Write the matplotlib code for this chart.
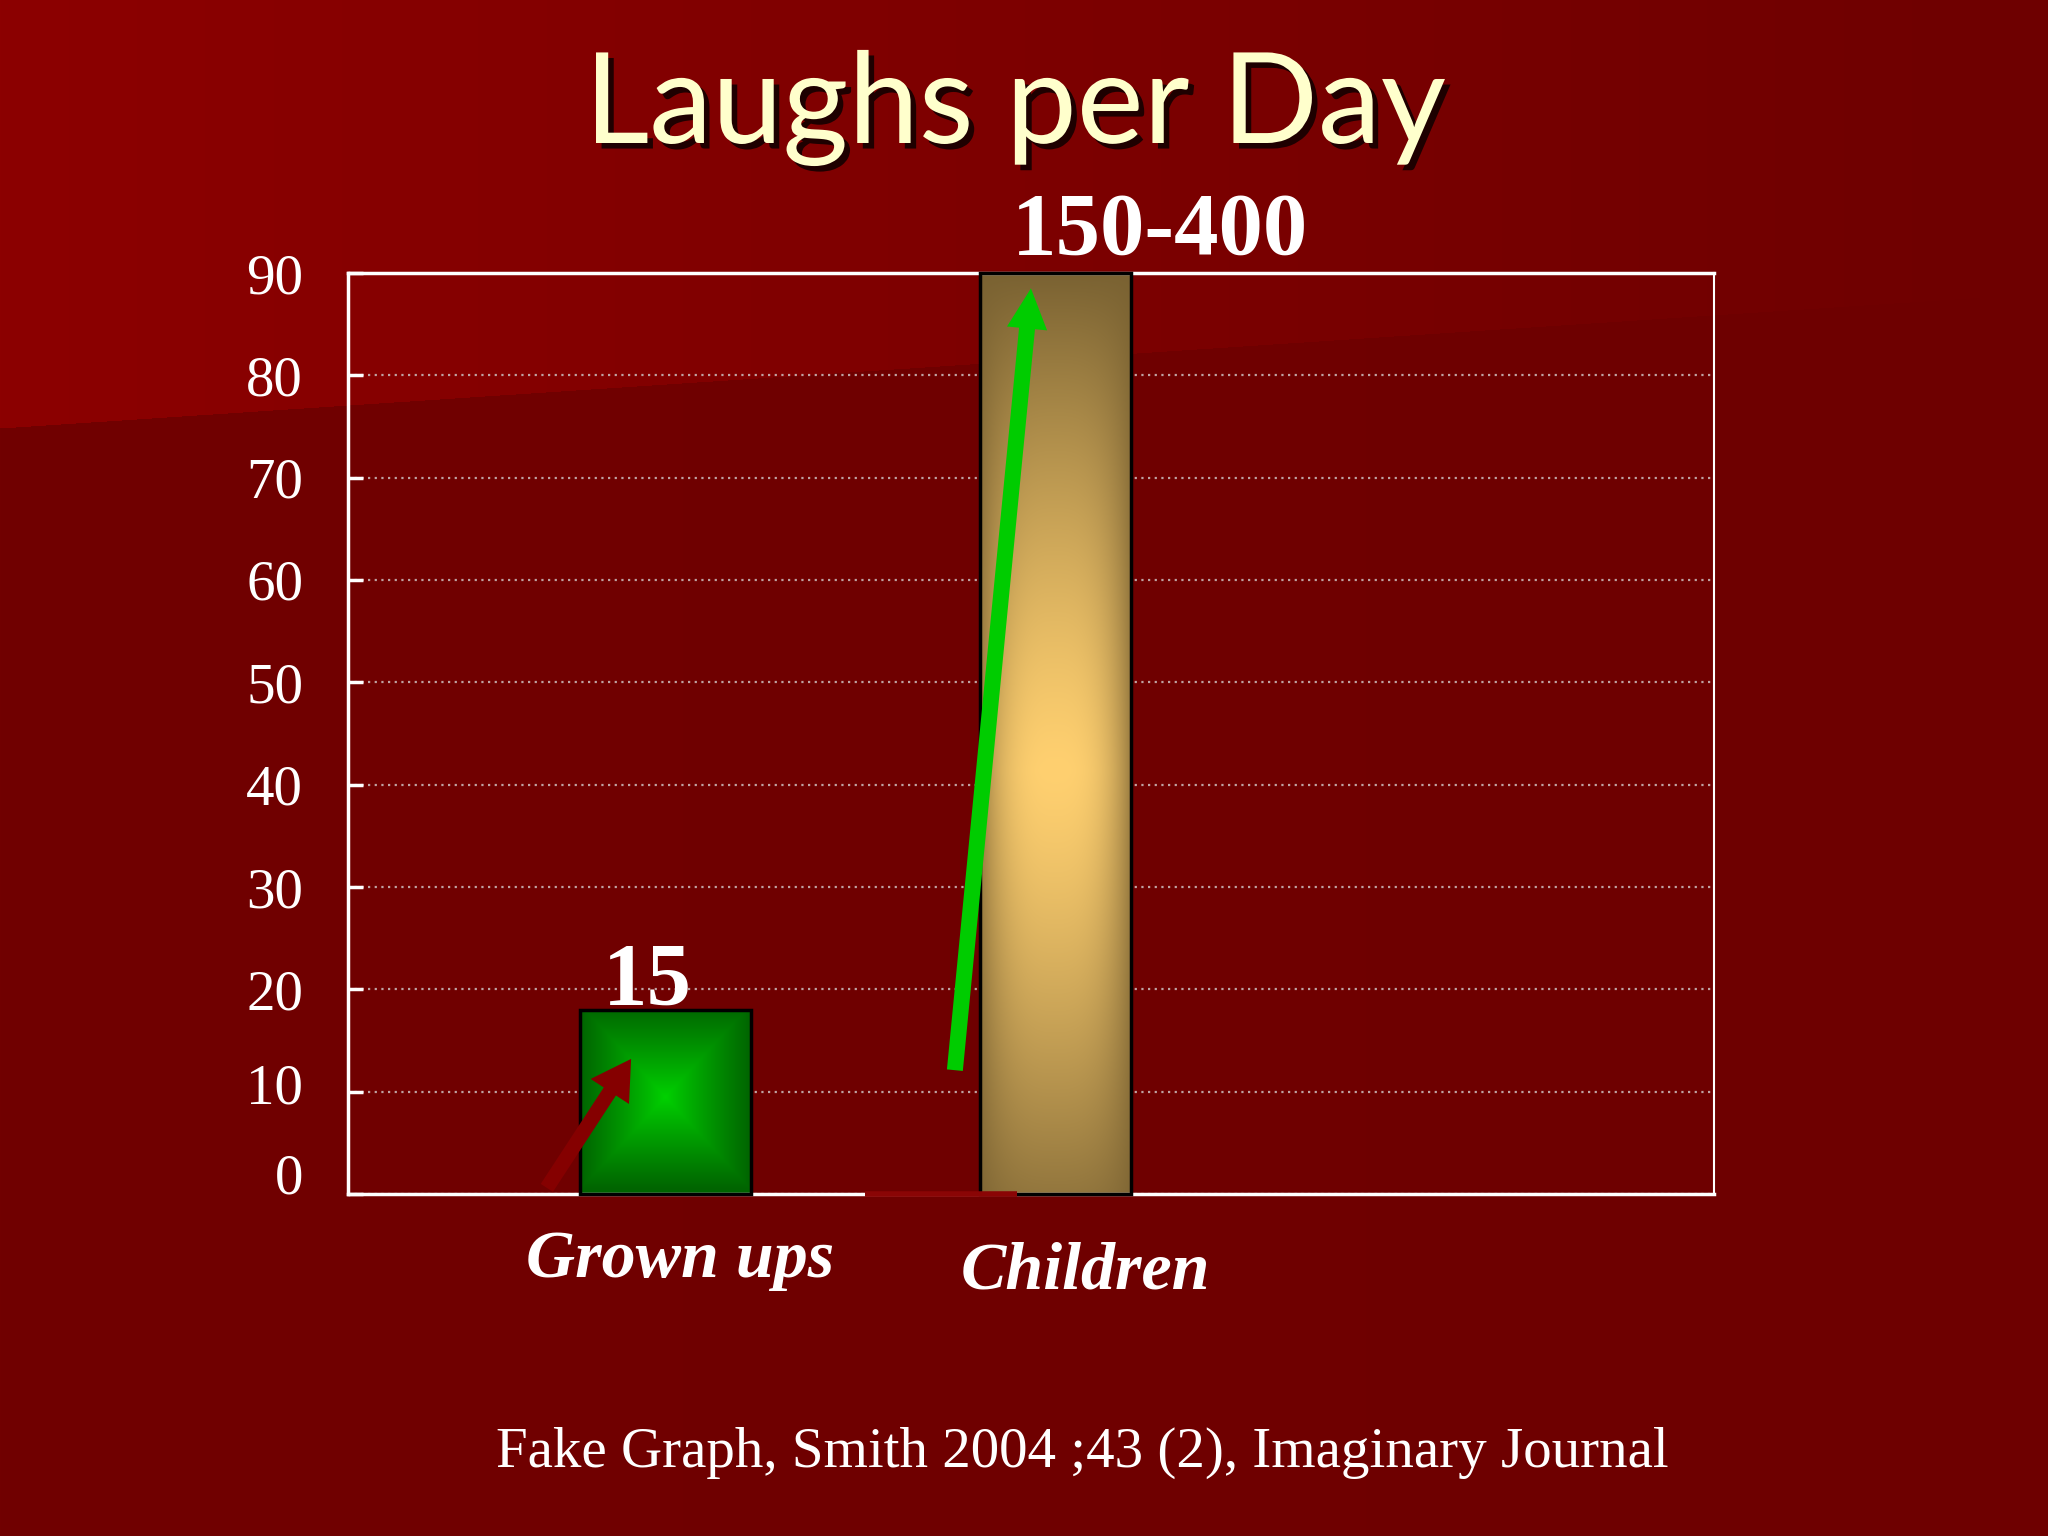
import numpy as np
import matplotlib
matplotlib.use('Agg')
import matplotlib.pyplot as plt
from matplotlib import patheffects as pe
from matplotlib.transforms import ScaledTranslation

# ---------------- data ----------------
categories = ['Grown ups', 'Children']
values = [18, 90]
value_labels = ['15', '150-400']
yticks = [0, 10, 20, 30, 40, 50, 60, 70, 80, 90]
title = 'Laughs per Day'
footnote = 'Fake Graph, Smith 2004 ;43 (2), Imaginary Journal'

# ---------------- layout / style ----------------
W, H = 2048, 1536
plt.rcParams['font.family'] = ['Liberation Serif', 'DejaVu Serif']

fig = plt.figure(figsize=(W / 100, H / 100), dpi=100)

# background (slide)
bg = fig.add_axes([0, 0, 1, 1], zorder=-10)
yy, xx = np.mgrid[0:H, 0:W]
top = yy < (428 - 0.066 * xx)
img = np.zeros((H, W, 3))
t = xx / W
img[..., 0] = np.where(top, (140 - 30 * t) / 255, (113 - 3 * t) / 255)
bg.imshow(img, extent=[0, W, H, 0], aspect='auto', interpolation='bilinear')
bg.set_xlim(0, W)
bg.set_ylim(H, 0)
bg.set_axis_off()

# main axes
ax = fig.add_axes([347.5 / W, 1 - 1194 / H, (1713.6 - 347.5) / W, (1194 - 273) / H])
ax.set_facecolor('none')
XLIM = (-0.815, 2.687)
YLIM = (0, 90)

x = np.arange(len(categories))
widths = [0.438, 0.387]
bars = ax.bar(x, values, width=widths, facecolor='none', edgecolor='black',
              linewidth=2.5, zorder=3)
for b in bars:
    b.set_clip_on(False)

# gradient fills
def green_grad(n=300):
    v, u = np.mgrid[-1:1:n * 1j, -1:1:n * 1j]
    d = np.clip(np.maximum(np.abs(u), np.abs(v * 1.0 + 0.05)), 0, 1)
    d = d ** 0.9
    c0 = np.array([0, 210, 0]) / 255
    c1 = np.array([0, 100, 0]) / 255
    return c0[None, None, :] * (1 - d[..., None]) + c1[None, None, :] * d[..., None]

def gold_grad(n=400):
    v, u = np.mgrid[0:1:n * 1j, -1:1:n * 1j]
    fv = 1 - np.clip(np.abs(v - 0.54) / 0.54, 0, 1) ** 1.3
    fh = 1 - np.abs(u) ** 3
    f = fv * (0.25 + 0.75 * fh)
    f = np.clip(f, 0, 1)
    c0 = np.array([122, 98, 50]) / 255
    c1 = np.array([255, 208, 112]) / 255
    return c0[None, None, :] * (1 - f[..., None]) + c1[None, None, :] * f[..., None]

grads = [green_grad(), gold_grad()]
for b, g in zip(bars, grads):
    x0, y0 = b.get_x(), b.get_y()
    im = ax.imshow(g, extent=[x0, x0 + b.get_width(), y0, y0 + b.get_height()],
                   origin='upper', aspect='auto', zorder=2.5, interpolation='bilinear')
    im.set_clip_path(b)

ax.set_xlim(*XLIM)
ax.set_ylim(*YLIM)
ax.set_aspect('auto')

# grid + ticks
ax.set_yticks(yticks)
ax.set_xticks([])
ax.yaxis.grid(True, linestyle=(0, (1, 2)), color='#bfa3a3', linewidth=1.6, zorder=1)
ax.set_axisbelow(True)
ax.tick_params(axis='y', direction='in', length=11, width=2.5, color='white',
               labelsize=41, labelcolor='white', pad=32)
# the slide's labels for 0 and 10 sit a little above their gridlines
for lab, dy in zip(ax.get_yticklabels()[:2], [20, 8]):
    lab.set_transform(lab.get_transform() + ScaledTranslation(0, dy / 100, fig.dpi_scale_trans))
for s in ['left', 'top', 'bottom']:
    ax.spines[s].set_color('white')
    ax.spines[s].set_linewidth(2.5)
ax.spines['right'].set_color('white')
ax.spines['right'].set_linewidth(1.5)

# small dark red strip over the baseline
ax.plot([0.512, 0.901], [0, 0], color='#8a0505', lw=4, zorder=4,
        clip_on=False, solid_capstyle='butt')

# arrows
ax.annotate('', xy=(-0.088, 13.2), xytext=(-0.304, 0.6),
            arrowprops=dict(arrowstyle='simple,head_length=28,head_width=33,tail_width=10.5',
                            mutation_scale=1, facecolor='#850000', edgecolor='none',
                            shrinkA=0, shrinkB=0), zorder=6, annotation_clip=False)
ax.annotate('', xy=(0.937, 88.5), xytext=(0.742, 12.1),
            arrowprops=dict(arrowstyle='simple,head_length=29,head_width=29,tail_width=11.5',
                            mutation_scale=1, facecolor='#00cc00', edgecolor='none',
                            shrinkA=0, shrinkB=0), zorder=6, annotation_clip=False)

# value labels
label_pos = [(-0.047, 18.6), (1.268, 91.9)]
for (lx, ly), txt in zip(label_pos, value_labels):
    ax.text(lx, ly, txt, ha='center', va='baseline', fontsize=64, fontweight='bold',
            color='white', zorder=7, clip_on=False)

# category labels
cat_pos = [(0.037, -8.1), (1.076, -9.2)]
for (cx, cy), txt in zip(cat_pos, categories):
    ax.text(cx, cy, txt, ha='center', va='baseline', fontsize=49, fontweight='bold',
            style='italic', color='white', clip_on=False)

# title
fig.text(1015 / W, 1 - 143 / H, title, ha='center', va='baseline', fontsize=91,
         color='#ffffcc', family=['Lato', 'DejaVu Sans'],
         path_effects=[pe.withSimplePatchShadow(offset=(4, -4), shadow_rgbFace='#140000', alpha=0.9)])

# footnote
fig.text(1082 / W, 1 - 1467 / H, footnote, ha='center', va='baseline', fontsize=41,
         color='white')

fig.savefig('out.png', dpi=100)
